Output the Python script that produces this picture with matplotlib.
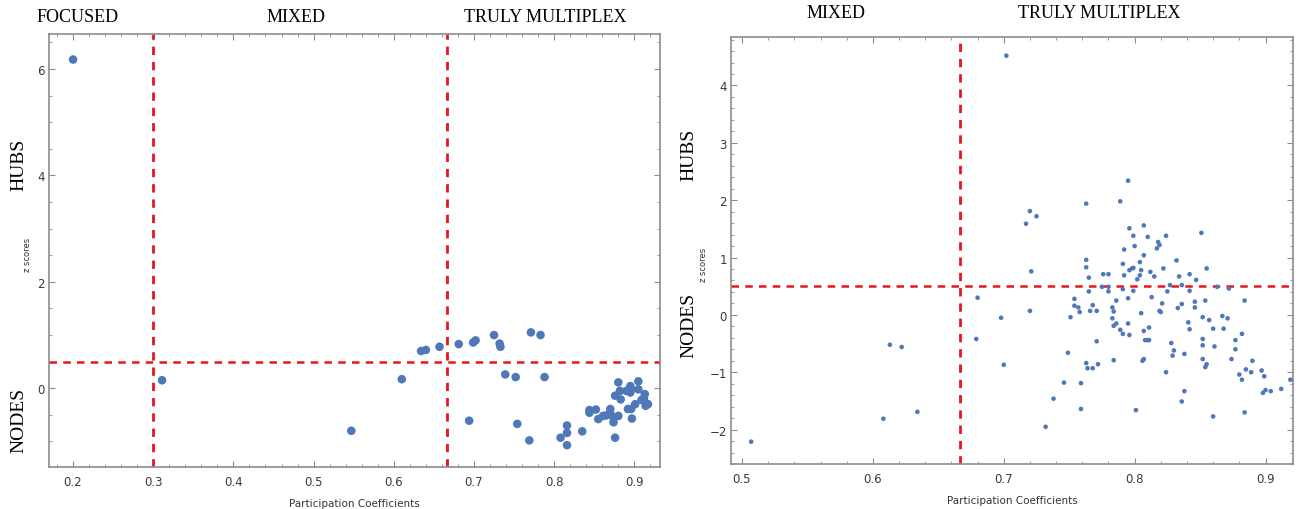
import matplotlib
matplotlib.use('Agg')
import matplotlib.pyplot as plt
from matplotlib.ticker import MultipleLocator

# left panel: participation coefficient vs z score
left_x = [0.200, 0.311, 0.547, 0.610, 0.634, 0.640, 0.657, 0.681, 0.699, 0.702,
          0.725, 0.732, 0.733, 0.771, 0.783, 0.739, 0.752, 0.788, 0.694, 0.754,
          0.769, 0.808, 0.816, 0.816, 0.816, 0.835, 0.844, 0.844, 0.852, 0.855,
          0.861, 0.865, 0.870, 0.870, 0.874, 0.874, 0.880, 0.876, 0.880, 0.882,
          0.876, 0.883, 0.890, 0.895, 0.896, 0.895, 0.905, 0.905, 0.913, 0.912,
          0.917, 0.914, 0.892, 0.896, 0.901, 0.897, 0.909, 0.916]
left_y = [6.18, 0.15, -0.80, 0.17, 0.70, 0.72, 0.78, 0.83, 0.86, 0.90,
          1.00, 0.84, 0.78, 1.05, 1.00, 0.26, 0.21, 0.21, -0.61, -0.67,
          -0.98, -0.93, -0.70, -0.84, -1.07, -0.81, -0.46, -0.41, -0.40, -0.58,
          -0.52, -0.51, -0.39, -0.47, -0.55, -0.64, -0.52, -0.93, 0.11, -0.05,
          -0.14, -0.21, -0.05, 0.04, -0.02, -0.08, 0.13, -0.02, -0.11, -0.19,
          -0.30, -0.33, -0.39, -0.39, -0.30, -0.57, -0.22, -0.30]

# right panel
right_x = [0.702, 0.507, 0.608, 0.613, 0.622, 0.634, 0.680, 0.679, 0.698, 0.700,
           0.795, 0.789, 0.763, 0.720, 0.725, 0.717, 0.721, 0.720, 0.796, 0.807,
           0.799, 0.810, 0.824, 0.818, 0.819, 0.817, 0.800, 0.792, 0.807, 0.851,
           0.832, 0.804, 0.791, 0.763, 0.763, 0.765, 0.796, 0.798, 0.799, 0.805,
           0.804, 0.802, 0.792, 0.776, 0.780, 0.812, 0.815, 0.822, 0.834, 0.842,
           0.847, 0.855, 0.827, 0.836, 0.863, 0.872, 0.775, 0.780, 0.780, 0.765,
           0.791, 0.799, 0.825, 0.842, 0.813, 0.795, 0.786, 0.854, 0.884, 0.754,
           0.754, 0.757, 0.758, 0.768, 0.766, 0.771, 0.783, 0.784, 0.805, 0.819,
           0.820, 0.821, 0.833, 0.836, 0.846, 0.846,
           0.751, 0.749, 0.771, 0.763, 0.764, 0.768, 0.772, 0.746, 0.759, 0.738,
           0.759, 0.732, 0.783, 0.784, 0.786, 0.789, 0.791, 0.795, 0.796, 0.807,
           0.811, 0.808, 0.810, 0.811, 0.784, 0.806, 0.807, 0.801, 0.841, 0.842,
           0.828, 0.830, 0.829, 0.838, 0.824, 0.838, 0.836, 0.852, 0.857, 0.860,
           0.852, 0.852, 0.861, 0.852, 0.855, 0.854, 0.860, 0.867, 0.868, 0.871,
           0.882, 0.877, 0.877, 0.874, 0.890, 0.885, 0.889, 0.880, 0.882, 0.884,
           0.897, 0.899, 0.900, 0.898, 0.904, 0.912, 0.919]
right_y = [4.52, -2.21, -1.81, -0.52, -0.56, -1.69, 0.30, -0.42, -0.05, -0.87,
           2.34, 1.98, 1.94, 1.81, 1.72, 1.59, 0.76, 0.07, 1.51, 1.56,
           1.38, 1.36, 1.38, 1.27, 1.22, 1.16, 1.20, 1.14, 1.04, 1.43,
           0.95, 0.92, 0.89, 0.96, 0.83, 0.65, 0.78, 0.81, 0.82, 0.78,
           0.69, 0.62, 0.69, 0.71, 0.71, 0.75, 0.67, 0.81, 0.67, 0.71,
           0.61, 0.81, 0.52, 0.52, 0.49, 0.46, 0.49, 0.49, 0.41, 0.41,
           0.45, 0.42, 0.41, 0.42, 0.31, 0.29, 0.25, 0.25, 0.25, 0.28,
           0.16, 0.13, 0.05, 0.17, 0.07, 0.07, 0.13, 0.06, 0.03, 0.07,
           0.05, 0.20, 0.12, 0.19, 0.23, 0.13,
           -0.04, -0.66, -0.46, -0.84, -0.93, -0.93, -0.86, -1.18, -1.19, -1.46,
           -1.64, -1.95, -0.06, -0.19, -0.15, -0.26, -0.33, -0.15, -0.35, -0.28,
           -0.22, -0.44, -0.44, -0.44, -0.79, -0.80, -0.77, -1.66, -0.13, -0.25,
           -0.49, -0.62, -0.71, -0.68, -1.00, -1.33, -1.51, -0.04, -0.09, -0.24,
           -0.42, -0.53, -0.55, -0.77, -0.86, -0.91, -1.77, -0.02, -0.24, -0.06,
           -0.33, -0.44, -0.60, -0.77, -0.80, -0.95, -1.00, -1.04, -1.13, -1.70,
           -0.97, -1.07, -1.31, -1.36, -1.33, -1.29, -1.13]

pc_cut = 2.0 / 3.0
z_cut = 0.5
dot = '#4f78b8'
red = '#e8151b'
serif = 'Liberation Serif'


def style_axes(ax):
    for s in ax.spines.values():
        s.set_color('#8c8c8c')
        s.set_linewidth(1.2)
    ax.tick_params(which='both', direction='in', top=True, right=True,
                   colors='#8c8c8c', labelcolor='#3a3a3a', labelsize=8.5)
    ax.tick_params(which='major', length=4, pad=6)
    ax.tick_params(which='minor', length=2)
    ax.set_xlabel('Participation Coefficients', fontsize=7.5, color='#333333', labelpad=7)


def px(x, y):
    # pixel position in the 1308x510 picture -> figure fraction
    return x / 1308, 1 - y / 510


fig = plt.figure(figsize=(13.08, 5.10), dpi=100)

# ---- left
ax1 = fig.add_axes([49 / 1308, 0.0824, 611 / 1308, 0.8490])
ax1.scatter(left_x, left_y, s=38, color=dot, edgecolors='none', zorder=3)
ax1.axvline(0.3, color=red, ls=(0, (3, 2.5)), lw=2, zorder=2)
ax1.axvline(pc_cut, color=red, ls=(0, (3, 2.5)), lw=2, zorder=2)
ax1.axhline(z_cut, color=red, ls=(0, (3, 2.5)), lw=1.8, zorder=2)
ax1.set_xlim(0.170, 0.932)
ax1.set_ylim(-1.48, 6.66)
ax1.xaxis.set_major_locator(MultipleLocator(0.1))
ax1.xaxis.set_minor_locator(MultipleLocator(0.02))
ax1.yaxis.set_major_locator(MultipleLocator(2))
ax1.yaxis.set_minor_locator(MultipleLocator(0.5))
style_axes(ax1)
ax1.tick_params(axis='y', pad=3)
ax1.set_yticks([0, 2, 4, 6])
ax1.set_xticks([0.2, 0.3, 0.4, 0.5, 0.6, 0.7, 0.8, 0.9])
ax1.set_xticklabels(['0.2', '0.3', '0.4', '0.5', '0.6', '0.7', '0.8', '0.9'])

fig.text(*px(78, 18), 'FOCUSED', family=serif, fontsize=13, ha='center', va='center')
fig.text(*px(296, 18), 'MIXED', family=serif, fontsize=13, ha='center', va='center')
fig.text(*px(545, 18), 'TRULY MULTIPLEX', family=serif, fontsize=13, ha='center', va='center')
fig.text(*px(19, 165), 'HUBS', family=serif, fontsize=14, rotation=90, ha='center', va='center')
fig.text(*px(19, 420), 'NODES', family=serif, fontsize=14, rotation=90, ha='center', va='center')
fig.text(*px(28, 255), 'z scores', fontsize=6, rotation=90, ha='center', va='center', color='#333333')

# ---- right
ax2 = fig.add_axes([731 / 1308, 0.0882, 562 / 1308, 0.8378])
ax2.scatter(right_x, right_y, s=11, color=dot, edgecolors='none', zorder=3)
ax2.axvline(pc_cut, color=red, ls=(0, (3, 2.5)), lw=2, zorder=2)
ax2.axhline(z_cut, color=red, ls=(0, (3, 2.5)), lw=1.8, zorder=2)
ax2.set_xlim(0.4916, 0.921)
ax2.set_ylim(-2.6, 4.85)
ax2.xaxis.set_major_locator(MultipleLocator(0.1))
ax2.xaxis.set_minor_locator(MultipleLocator(0.02))
ax2.yaxis.set_major_locator(MultipleLocator(1))
ax2.yaxis.set_minor_locator(MultipleLocator(0.2))
style_axes(ax2)
ax2.tick_params(axis='y', pad=3)
ax2.set_xticks([0.5, 0.6, 0.7, 0.8, 0.9])
ax2.set_xticklabels(['0.5', '0.6', '0.7', '0.8', '0.9'])

fig.text(*px(836, 14), 'MIXED', family=serif, fontsize=13, ha='center', va='center')
fig.text(*px(1099, 14), 'TRULY MULTIPLEX', family=serif, fontsize=13, ha='center', va='center')
fig.text(*px(689, 155), 'HUBS', family=serif, fontsize=14, rotation=90, ha='center', va='center')
fig.text(*px(689, 325), 'NODES', family=serif, fontsize=14, rotation=90, ha='center', va='center')
fig.text(*px(703, 265), 'z scores', fontsize=6, rotation=90, ha='center', va='center', color='#333333')

fig.savefig('out.png', dpi=100)
